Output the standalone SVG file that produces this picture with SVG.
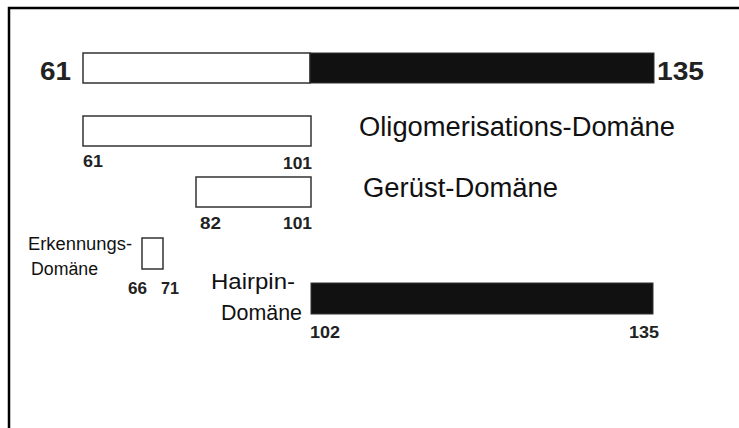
<svg xmlns="http://www.w3.org/2000/svg" width="739" height="428" viewBox="0 0 739 428">
<style>
.box{fill:#fff;stroke:#333;stroke-width:1.5}
.bar{fill:#111;stroke:#333;stroke-width:1}
.num{font-family:"Liberation Sans",Arial,sans-serif;font-weight:bold;fill:#222}
.sn{font-size:17px}
.lbl{font-family:"Liberation Sans",Arial,sans-serif;fill:#111}
</style>
<rect x="0" y="0" width="739" height="428" fill="#fff"/>
<path d="M9,428 V8 H739" fill="none" stroke="#000" stroke-width="2.5"/>
<g id="full">
<rect class="box" x="83" y="53" width="227" height="30"/>
<rect class="bar" x="310" y="53" width="344" height="30"/>
<text class="num" x="71" y="80" font-size="26" text-anchor="end" textLength="31" lengthAdjust="spacingAndGlyphs">61</text>
<text class="num" x="657" y="80" font-size="26" textLength="47" lengthAdjust="spacingAndGlyphs">135</text>
</g>
<g id="oligo">
<rect class="box" x="83" y="116" width="228" height="30"/>
<text class="num sn" x="83" y="167" textLength="20" lengthAdjust="spacingAndGlyphs">61</text>
<text class="num sn" x="283" y="169" textLength="29" lengthAdjust="spacingAndGlyphs">101</text>
<text class="lbl" x="359" y="136" font-size="27" textLength="316" lengthAdjust="spacingAndGlyphs">Oligomerisations-Domäne</text>
</g>
<g id="geruest">
<rect class="box" x="196" y="177" width="115" height="30"/>
<text class="num sn" x="200" y="229" textLength="21" lengthAdjust="spacingAndGlyphs">82</text>
<text class="num sn" x="283" y="229" textLength="29" lengthAdjust="spacingAndGlyphs">101</text>
<text class="lbl" x="363" y="197" font-size="27" textLength="195" lengthAdjust="spacingAndGlyphs">Gerüst-Domäne</text>
</g>
<g id="erkennung">
<rect class="box" x="142" y="238" width="21" height="31"/>
<text class="lbl" x="28" y="250" font-size="18" textLength="104" lengthAdjust="spacingAndGlyphs">Erkennungs-</text>
<text class="lbl" x="31" y="275" font-size="18" textLength="67" lengthAdjust="spacingAndGlyphs">Domäne</text>
<text class="num sn" x="128" y="294" textLength="19" lengthAdjust="spacingAndGlyphs">66</text>
<text class="num sn" x="161" y="294" textLength="18" lengthAdjust="spacingAndGlyphs">71</text>
</g>
<g id="hairpin">
<rect class="bar" x="311" y="283" width="342" height="31"/>
<text class="lbl" x="211" y="289" font-size="22" textLength="84" lengthAdjust="spacingAndGlyphs">Hairpin-</text>
<text class="lbl" x="221" y="320" font-size="22" textLength="81" lengthAdjust="spacingAndGlyphs">Domäne</text>
<text class="num sn" x="310" y="338" textLength="30" lengthAdjust="spacingAndGlyphs">102</text>
<text class="num sn" x="629" y="338" textLength="30" lengthAdjust="spacingAndGlyphs">135</text>
</g>
<g id="connectors"></g>
</svg>
